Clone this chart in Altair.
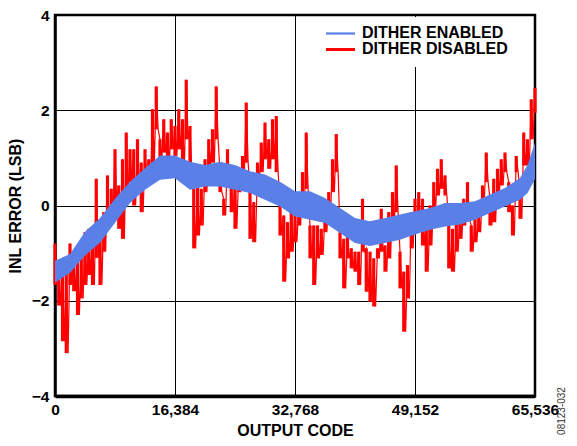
import altair as alt
import pandas as pd

SERIES = ["DITHER ENABLED", "DITHER DISABLED"]
COLORS = ["#5a80e8", "#ff0000"]
X_TICKS = [0, 16384, 32768, 49152, 65536]
Y_TICKS = [-4, -2, 0, 2, 4]
RED_STEP = 512

# DITHER DISABLED: local upper / lower excursions read every 512 codes
red_hi = [
    -0.8, -1.18, -1.4, -1.32, -0.8, -0.97, -1.1, -0.97, -0.56, -0.49, -0.7, 0.56, -0.35, -0.14, 0.63, 0.35,
    1.18, 0.42, 0.97, 1.53, 1.18, 1.18, 1.39, 0.9, 1.18, 0.97, 2.02, 2.5, 1.39, 1.81, 1.53, 1.81,
    1.67, 2.02, 1.81, 2.64, 1.67, 0.35, 0.42, 0.35, 0.97, 1.39, 1.6, 2.5, 0.7, 0.14, 1.18, 0.42,
    0.56, 0.77, 1.04, 2.16, 0.35, 0.07, 0.9, 1.32, 1.74, 1.39, 1.81, 1.88, 0.07, -0.21, -0.35, 0.0,
    -0.14, 0.0, 0.7, 1.53, -0.42, -0.42, -0.42, -0.49, -0.14, 0.28, 0.97, 1.5, -0.56, -0.7, -0.63, -0.9,
    -0.97, -0.97, 0.14, -0.9, -0.97, -1.11, -0.9, -0.07, -0.84, -0.14, 0.28, 0.84, -0.97, -1.39, -1.25, -0.14,
    0.14, 0.28, 0.14, -0.35, 0.0, 0.49, 0.77, 0.97, 0.63, -0.42, -0.49, -0.35, -0.14, 0.14, 0.49, -0.42,
    -0.28, -0.14, 0.42, 1.11, 0.14, 0.56, 0.77, 0.97, 1.11, 0.49, 0.0, 1.04, 0.28, 1.53, 1.39, 2.23,
    2.47,
]
red_lo = [
    -1.67, -2.1, -2.85, -3.1, -1.67, -1.8, -2.3, -1.95, -1.67, -1.46, -1.67, -1.1, -1.67, -0.97, -0.49, -0.14,
    0.0, -0.49, -0.7, 0.28, 0.49, 0.0, 0.42, -0.14, 0.49, 0.49, 0.9, 1.6, 0.97, 1.11, 0.9, 1.18,
    1.04, 1.18, 0.77, 1.39, 0.7, -0.9, -0.63, -0.42, 0.28, 0.84, 0.9, 1.39, 0.28, -0.21, 0.42, -0.14,
    -0.49, 0.28, 0.7, 0.9, -0.7, -0.77, 0.49, 0.7, 0.97, 0.77, 0.97, 0.7, -0.63, -1.6, -1.11, -0.97,
    -0.77, -0.42, -0.14, 0.35, -1.11, -1.67, -1.11, -1.04, -0.56, -0.14, 0.28, 0.7, -1.11, -1.74, -1.11, -1.32,
    -1.39, -1.67, -0.97, -1.81, -2.02, -2.12, -1.11, -0.97, -1.39, -1.11, -0.42, -0.14, -1.74, -2.65, -1.95, -0.9,
    -0.56, -0.42, -0.84, -1.39, -0.84, -0.07, 0.21, 0.35, 0.21, -1.32, -1.39, -0.97, -0.7, -0.42, -0.28, -0.97,
    -0.77, -0.56, 0.14, 0.49, -0.42, -0.35, 0.28, 0.42, 0.7, -0.14, -0.63, 0.7, -0.28, 0.84, 0.84, 1.39,
    1.95,
]

# DITHER ENABLED: band edges
blue_code = [
    0, 2048, 4096, 6144, 8192, 10240, 12288, 14336,
    16384, 18432, 20480, 22528, 24576, 26624, 28672, 30720,
    32768, 34816, 36864, 38912, 40960, 43008, 45056, 47104,
    49152, 51200, 53248, 55296, 57344, 59392, 61440, 63488,
    64512, 65536,
]
blue_hi = [
    -1.16, -1.02, -0.55, -0.26, 0.14, 0.5, 0.78, 1.05,
    1.05, 0.92, 0.85, 0.92, 0.85, 0.72, 0.65, 0.5,
    0.3, 0.3, 0.16, -0.05, -0.26, -0.33, -0.26, -0.19,
    -0.12, -0.05, 0.05, 0.05, 0.09, 0.23, 0.37, 0.58,
    0.85, 1.32,
]
blue_lo = [
    -1.62, -1.41, -1.05, -0.78, -0.36, 0.05, 0.33, 0.54,
    0.57, 0.33, 0.4, 0.4, 0.33, 0.26, 0.12, -0.02,
    -0.23, -0.3, -0.37, -0.58, -0.79, -0.85, -0.79, -0.72,
    -0.61, -0.51, -0.44, -0.4, -0.3, -0.16, -0.02, 0.12,
    0.26, 0.55,
]

red_rows = []
for i, v in enumerate(red_hi):
    red_rows.append({"code": i * RED_STEP, "inl": v})
    if i < len(red_hi) - 1:
        red_rows.append({"code": i * RED_STEP + RED_STEP // 2, "inl": red_lo[i]})
red_df = pd.DataFrame(red_rows)
red_env = pd.DataFrame({"code": [i * RED_STEP for i in range(len(red_hi))], "hi": red_hi, "lo": red_lo})
blue_df = pd.DataFrame({"code": blue_code, "hi": blue_hi, "lo": blue_lo})

FONT = "Liberation Sans"

x_enc = alt.X(
    "code:Q",
    scale=alt.Scale(domain=[0, 65536], nice=False),
    axis=alt.Axis(
        values=X_TICKS, format=",d", title="OUTPUT CODE", labelFlush=False,
        labelOverlap=False, labelPadding=6, titlePadding=5, domainWidth=3.5,
    ),
)
y_scale = alt.Scale(domain=[-4, 4], nice=False)
y_axis = alt.Axis(
    values=Y_TICKS, title="INL ERROR (LSB)", labelPadding=6, titlePadding=8,
    domainWidth=2.5, labelOverlap=False,
)

red_needles = alt.Chart(red_env).mark_rule(color=COLORS[1], strokeWidth=3.2).encode(
    x=x_enc,
    y=alt.Y("hi:Q", scale=y_scale, axis=y_axis),
    y2=alt.Y2("lo:Q"),
)

red_line = alt.Chart(red_df).mark_line(strokeWidth=1.2, color=COLORS[1]).encode(
    x=alt.X("code:Q"),
    y=alt.Y("inl:Q"),
)

blue_band = alt.Chart(blue_df).mark_area(opacity=1, color=COLORS[0]).encode(
    x=alt.X("code:Q"),
    y=alt.Y("hi:Q"),
    y2=alt.Y2("lo:Q"),
)

# legend drawn in the plot's top-right corner
legend_box = alt.Chart(pd.DataFrame({"k": [0]})).mark_rect(color="white").encode(
    x=alt.value(252), x2=alt.value(478), y=alt.value(2), y2=alt.value(52)
)
legend_layers = [legend_box]
for name, col, ypos, sw in zip(SERIES, COLORS, [18.5, 34.5], [2.2, 3]):
    entry = pd.DataFrame({"label": [name]})
    legend_layers.append(
        alt.Chart(entry).mark_rule(color=col, strokeWidth=sw).encode(
            x=alt.value(271), x2=alt.value(300), y=alt.value(ypos)
        )
    )
    legend_layers.append(
        alt.Chart(entry).mark_text(
            align="left", baseline="middle", font=FONT, fontSize=16,
            fontWeight="bold", color="black"
        ).encode(x=alt.value(307), y=alt.value(ypos - 0.5), text="label:N")
    )

note = alt.Chart(pd.DataFrame({"t": ["08123-032"]})).mark_text(
    angle=270, fontSize=10, font=FONT, color="#333333"
).encode(x=alt.value(507), y=alt.value(396), text="t:N")

chart = alt.layer(red_needles, red_line, blue_band, *legend_layers, note).properties(
    width=480, height=381,
    padding={"left": 47, "top": 7, "right": 34, "bottom": 42},
    autosize=alt.AutoSizeParams(type="none"),
).configure_view(
    stroke="black", strokeWidth=2.5
).configure_axis(
    grid=True, gridColor="black", gridWidth=1, gridOpacity=1,
    domainColor="black", tickSize=0, ticks=False,
    labelFont=FONT, labelFontSize=15.5, labelFontWeight="bold", labelColor="black",
    titleFont=FONT, titleFontSize=16, titleFontWeight="bold", titleColor="black",
)

chart.save("out.html", embed_options={"renderer": "svg", "actions": False})
